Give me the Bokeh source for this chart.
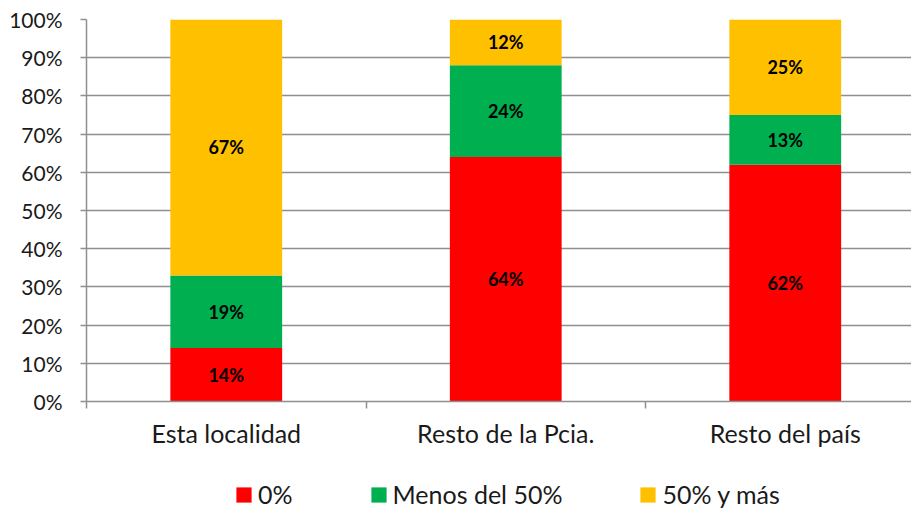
from bokeh.plotting import figure
from bokeh.layouts import column
from bokeh.models import (Range1d, FixedTicker, LinearAxis, Legend, LegendItem,
                          ColumnDataSource, PrintfTickFormatter, Grid)
from bokeh.core.properties import value
from bokeh.embed import file_html
from bokeh.resources import INLINE

categories = ["Esta localidad", "Resto de la Pcia.", "Resto del país"]
series_names = ["0%", "Menos del 50%", "50% y más"]
v_cero = [14, 64, 62]
v_menos50 = [19, 24, 13]
v_50ymas = [67, 12, 25]
colors = ["#FF0000", "#00B050", "#FFC000"]
y_ticks = [0, 10, 20, 30, 40, 50, 60, 70, 80, 90, 100]

FONT = "Lato"
GRAY = "#8f8f8f"
TXT = "#1a1a1a"

W = 911
H1, H2 = 460, 49
LEFT, TOP = 86, 19
BOTTOM = H1 - 401
p = figure(width=W, height=H1, output_backend="svg", toolbar_location=None,
           x_axis_type=None, y_axis_type=None,
           min_border_left=LEFT, min_border_right=0, min_border_top=TOP,
           min_border_bottom=BOTTOM)
p.outline_line_color = None
p.background_fill_color = "white"
p.border_fill_color = "white"

frame_w = W - LEFT
cat_px = 279.5
p.x_range = Range1d(0, frame_w / cat_px)
p.y_range = Range1d(0, 100)

xs = [i + 0.5 for i in range(len(categories))]
series = [v_cero, v_menos50, v_50ymas]

# y axis
yax = LinearAxis(ticker=FixedTicker(ticks=y_ticks),
                 formatter=PrintfTickFormatter(format="%d%%"))
yax.axis_line_color = GRAY
yax.axis_line_width = 1.5
yax.major_tick_line_color = GRAY
yax.major_tick_line_width = 1.5
yax.major_tick_out = 6
yax.major_tick_in = 0
yax.minor_tick_line_color = None
yax.major_label_standoff = 18
yax.major_label_text_font = FONT
yax.major_label_text_font_size = "21px"
yax.major_label_text_color = TXT
p.add_layout(yax, "left")

# x axis
xax = LinearAxis(ticker=FixedTicker(ticks=xs, minor_ticks=[0, 1, 2, 3]))
xax.major_label_overrides = {x: c for x, c in zip(xs, categories)}
xax.axis_line_color = GRAY
xax.axis_line_width = 1.5
xax.major_tick_line_color = None
xax.major_tick_out = 0
xax.major_tick_in = 0
xax.minor_tick_line_color = GRAY
xax.minor_tick_line_width = 1.5
xax.minor_tick_out = 7
xax.minor_tick_in = 0
xax.major_label_standoff = 9
xax.major_label_text_font = FONT
xax.major_label_text_font_size = "25px"
xax.major_label_text_color = TXT
p.add_layout(xax, "below")

g = Grid(dimension=1, ticker=FixedTicker(ticks=y_ticks), grid_line_color=GRAY,
         grid_line_width=1.5)
p.add_layout(g)

bottoms = [0] * len(categories)
for name, vals, col in zip(series_names, series, colors):
    tops = [b + v for b, v in zip(bottoms, vals)]
    src = ColumnDataSource(dict(x=xs, bottom=bottoms, top=tops,
                                ymid=[(b + t) / 2 for b, t in zip(bottoms, tops)],
                                lab=[f"{v}%" for v in vals]))
    p.vbar(x="x", bottom="bottom", top="top", width=0.40, source=src,
           fill_color=col, line_color=None)
    p.text(x="x", y="ymid", text="lab", source=src, text_align="center",
           text_baseline="middle", text_font=value(FONT), text_font_style="bold",
           text_font_size="18px", text_color="black")
    bottoms = tops

# legend figure (frame aligned with the main plot's frame in the column)
pl = figure(width=W, height=H2, output_backend="svg", toolbar_location=None,
            x_axis_type=None, y_axis_type=None,
            min_border_left=LEFT, min_border_right=0, min_border_top=0,
            min_border_bottom=0, x_range=Range1d(0, 1), y_range=Range1d(0, 1))
pl.outline_line_color = None
pl.grid.visible = False
items = []
for name, col in zip(series_names, colors):
    r = pl.vbar(x=[-10], bottom=[-11], top=[-10], width=0.1,
                fill_color=col, line_color=None)
    items.append(LegendItem(label=name, renderers=[r]))
legend = Legend(items=items, orientation="horizontal", location=(234 - LEFT, 0),
                glyph_width=19, glyph_height=19, label_standoff=5, spacing=76,
                padding=0, margin=0, border_line_color=None,
                background_fill_alpha=0,
                label_text_font=FONT, label_text_font_size="25px",
                label_text_color=TXT)
pl.add_layout(legend)

layout = column(p, pl, spacing=0)
open("out.html", "w").write(file_html(layout, INLINE))
